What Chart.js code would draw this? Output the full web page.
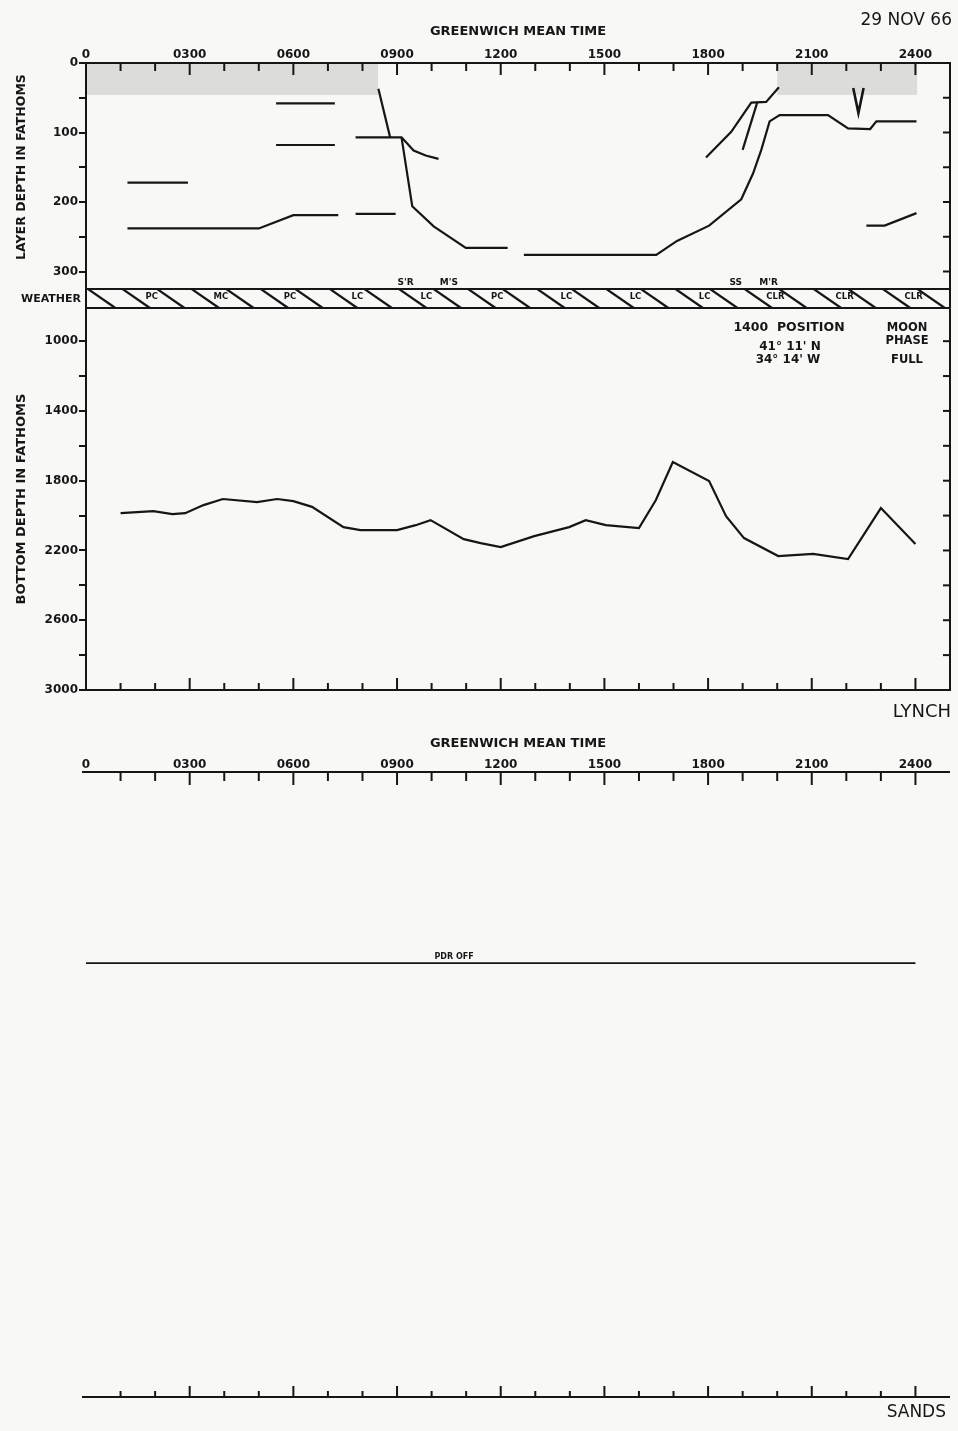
<!DOCTYPE html>
<html>
<head>
<meta charset="utf-8">
<title>Layer and bottom depth, 29 Nov 66</title>
<script src="https://cdn.jsdelivr.net/npm/chart.js@4.4.1/dist/chart.umd.min.js"></script>
<style>
  body { margin: 0; background: #f8f8f7; }
  #page { position: relative; width: 958px; height: 1431px; overflow: hidden; }
  #page canvas { position: absolute; left: 0; }
</style>
</head>
<body>
<div id="page">
  <canvas id="layerChart" width="958" height="320" style="top:0"></canvas>
  <canvas id="bottomChart" width="958" height="430" style="top:300px"></canvas>
  <canvas id="sandsChart" width="958" height="711" style="top:720px"></canvas>
</div>
<script>
// time axis, hours GMT
const hourTicks = [0,1,2,3,4,5,6,7,8,9,10,11,12,13,14,15,16,17,18,19,20,21,22,23,24]
const majorHours = [0,3,6,9,12,15,18,21,24]
const timeLabels = ['0','0300','0600','0900','1200','1500','1800','2100','2400']

// depth axes, fathoms
const layerTicks = [0,50,100,150,200,250,300]
const layerLabels = [0,100,200,300]
const bottomTicks = [1000,1200,1400,1600,1800,2000,2200,2400,2600,2800,3000]
const bottomLabels = [1000,1400,1800,2200,2600,3000]

// LYNCH layer depth traces, [hour, fathoms]
const layerA = [[1.2,172],[2.95,172]]
const layerB = [[1.2,238],[5.0,238],[6.0,219],[7.3,219]]
const layerC = [[5.5,58],[7.2,58]]
const layerD = [[5.5,118],[7.2,118]]
const layerE = [[7.8,217],[8.96,217]]
const layerF = [[7.8,107],[9.13,107],[9.48,126],[9.83,133],[10.2,138]]
const layerG = [[8.46,37],[8.8,107]]
const layerH = [[9.13,107],[9.44,206],[10.06,235],[10.99,266],[12.2,266]]
const layerI = [[12.67,276],[16.5,276],[17.1,256],[18.03,234],[18.96,196],[19.3,159],[19.54,125],[19.78,84],[20.07,75],[21.47,75],[22.05,94],[22.69,95],[22.87,84],[24.03,84]]
const layerJ = [[17.94,136],[18.67,99],[19.25,57],[19.68,56],[20.05,35]]
const layerK = [[19.0,125],[19.42,57]]
const layerL = [[22.58,234],[23.11,234],[24.03,216]]
const moonMark = [[22.2,36],[22.35,72],[22.5,36]]

// shaded surface layer, [from hour, to hour]
const shadeSpans = [[0,8.45],[20.0,24.05]]
const shadeDepth = 46

// weather band
const bandDepth = 325
const weatherHours = [1.9,3.9,5.9,7.85,9.85,11.9,13.9,15.9,17.9,19.95,21.95,23.95]
const weatherCodes = ['PC','MC','PC','LC','LC','PC','LC','LC','LC','CLR','CLR','CLR']
const eventHours = [9.25,10.5,18.8,19.75]
const eventLabels = ["S'R","M'S","SS","M'R"]

// LYNCH bottom depth, fathoms
const bottomHours = [1.0,1.95,2.5,2.87,3.4,3.96,4.95,5.53,6.0,6.54,7.45,7.94,9.0,9.54,9.97,10.93,11.42,12.0,12.97,13.98,14.46,15.04,16.0,16.49,16.98,18.03,18.52,19.04,20.03,21.04,22.05,23.0,24.0]
const bottomDepth = [1986,1974,1992,1986,1940,1905,1923,1905,1917,1950,2066,2083,2083,2055,2026,2135,2158,2181,2118,2066,2026,2055,2072,1911,1693,1802,2003,2129,2232,2220,2249,1957,2163]

// SANDS recorder, off all day
const sandsTrace = [[0,275],[24,275]]

const ink = '#161616'
const label = (size, weight) => (weight || 'bold') + ' ' + size + "px 'DejaVu Sans', sans-serif"

Chart.defaults.font.family = "'DejaVu Sans', sans-serif"
Chart.defaults.color = ink

const trace = (pairs, width) => ({
  data: pairs.map(([x, y]) => ({x, y})),
  borderColor: ink,
  borderWidth: width || 2.2,
  pointRadius: 0,
  tension: 0
})

const timeLabel = (v) => {
  const i = majorHours.indexOf(v)
  return i < 0 ? '' : timeLabels[i]
}

const timeAxis = (height, tickPad, titlePad) => ({
  type: 'linear',
  position: 'top',
  min: 0,
  max: 25,
  afterBuildTicks: (s) => { s.ticks = hourTicks.map(v => ({value: v})) },
  afterFit: (s) => { s.height = height },
  ticks: { autoSkip: false, maxRotation: 0, padding: tickPad, font: {size: 12, weight: 'bold'}, callback: timeLabel },
  grid: { display: false, drawTicks: false },
  border: { display: false },
  title: { display: true, text: 'GREENWICH MEAN TIME', font: {size: 13, weight: 'bold'}, padding: {top: titlePad, bottom: 0} }
})

const seg = (ctx, x1, y1, x2, y2) => {
  ctx.beginPath()
  ctx.moveTo(x1, y1)
  ctx.lineTo(x2, y2)
  ctx.stroke()
}

const write = (ctx, str, px, py, font, align) => {
  ctx.font = font
  ctx.textAlign = align || 'center'
  ctx.textBaseline = 'middle'
  ctx.fillText(str, px, py)
}

// hour tick marks pointing into the plot
const hourMarks = (ctx, x, edge, dir, majorLen, minorLen) => {
  hourTicks.forEach((h) => {
    if (h === 0) return
    const px = x.getPixelForValue(h)
    seg(ctx, px, edge, px, edge + dir * (majorHours.includes(h) ? majorLen : minorLen))
  })
}

const common = {
  responsive: false,
  animation: false,
  events: [],
  plugins: { legend: { display: false }, tooltip: { enabled: false } }
}

// upper panel: layer depth + weather band
const layerDecor = {
  id: 'layerDecor',
  beforeDatasetsDraw(chart) {
    const {ctx, scales: {x, y}} = chart
    ctx.save()
    ctx.fillStyle = 'rgba(0,0,0,0.11)'
    shadeSpans.forEach(([a, b]) => {
      const left = x.getPixelForValue(a)
      const top = y.getPixelForValue(0)
      ctx.fillRect(left, top, x.getPixelForValue(b) - left, y.getPixelForValue(shadeDepth) - top)
    })
    ctx.restore()
  },
  afterDatasetsDraw(chart) {
    const {ctx, chartArea: area, scales: {x, y}} = chart
    ctx.save()
    ctx.strokeStyle = ink
    ctx.fillStyle = ink
    ctx.lineWidth = 2
    seg(ctx, area.left - 1, area.top, area.right + 1, area.top)
    seg(ctx, area.right, area.top, area.right, area.bottom)
    hourMarks(ctx, x, area.top, 1, 12, 8)
    layerTicks.forEach((v) => {
      if (v === 0) return
      seg(ctx, area.right - 7, y.getPixelForValue(v), area.right, y.getPixelForValue(v))
    })

    // weather band with hatching
    const bandTop = y.getPixelForValue(bandDepth)
    seg(ctx, area.left, bandTop, area.right, bandTop)
    seg(ctx, area.left, area.bottom, area.right, area.bottom)
    ctx.save()
    ctx.beginPath()
    ctx.rect(area.left, bandTop, area.right - area.left, area.bottom - bandTop)
    ctx.clip()
    ctx.lineWidth = 2.3
    hourTicks.forEach((h) => {
      seg(ctx, x.getPixelForValue(h + 0.05), bandTop, x.getPixelForValue(h + 0.85), area.bottom)
    })
    ctx.restore()
    weatherHours.forEach((h, i) => {
      write(ctx, weatherCodes[i], x.getPixelForValue(h), bandTop + 8, label(8.5))
    })
    eventHours.forEach((h, i) => {
      write(ctx, eventLabels[i], x.getPixelForValue(h), bandTop - 6, label(9))
    })

    write(ctx, 'WEATHER', 81, (bandTop + area.bottom) / 2 + 1, label(11), 'right')
    write(ctx, '29 NOV 66', 952, 21, label(17, 'normal'), 'right')
    ctx.save()
    ctx.translate(22, 167)
    ctx.rotate(-Math.PI / 2)
    write(ctx, 'LAYER DEPTH IN FATHOMS', 0, 0, label(12.5))
    ctx.restore()
    ctx.restore()
  }
}

new Chart(document.getElementById('layerChart'), {
  type: 'line',
  data: {
    datasets: [layerA, layerB, layerC, layerD, layerE, layerF, layerG, layerH, layerI, layerJ, layerK, layerL].map(p => trace(p))
      .concat([trace(moonMark, 2.6)])
  },
  options: {
    ...common,
    layout: { padding: {top: 0, right: 8, bottom: 12, left: 0} },
    scales: {
      x: timeAxis(63, 1, 24),
      y: {
        type: 'linear',
        min: 0,
        max: 352.5,
        reverse: true,
        afterBuildTicks: (s) => { s.ticks = layerTicks.map(v => ({value: v})) },
        afterFit: (s) => { s.width = 86 },
        ticks: { padding: 1, font: {size: 12, weight: 'bold'}, callback: (v) => layerLabels.includes(v) ? String(v) : '' },
        grid: { drawOnChartArea: false, drawTicks: true, tickLength: 7, color: ink, lineWidth: 2 },
        border: { display: true, color: ink, width: 2 }
      }
    }
  },
  plugins: [layerDecor]
})

// middle panel: bottom depth
const bottomDecor = {
  id: 'bottomDecor',
  afterDatasetsDraw(chart) {
    const {ctx, chartArea: area, scales: {x, y}} = chart
    ctx.save()
    ctx.strokeStyle = ink
    ctx.fillStyle = ink
    ctx.lineWidth = 2
    seg(ctx, area.right, area.top, area.right, area.bottom + 1)
    seg(ctx, area.left - 1, area.bottom, area.right + 1, area.bottom)
    hourMarks(ctx, x, area.bottom, -1, 12, 7)
    bottomTicks.forEach((v) => {
      if (v === 3000) return
      seg(ctx, area.right - 7, y.getPixelForValue(v), area.right, y.getPixelForValue(v))
    })

    write(ctx, '1400  POSITION', 789, 28, label(12.5))
    write(ctx, "41\u00b0 11' N", 790, 47, label(12))
    write(ctx, "34\u00b0 14' W", 788, 60, label(12))
    write(ctx, 'MOON', 907, 28, label(11.5))
    write(ctx, 'PHASE', 907, 41, label(11.5))
    write(ctx, 'FULL', 907, 60, label(11.5))
    write(ctx, 'LYNCH', 951, 412, label(18, 'normal'), 'right')
    ctx.restore()
  }
}

new Chart(document.getElementById('bottomChart'), {
  type: 'line',
  data: {
    datasets: [{
      ...trace([]),
      data: bottomHours.map((h, i) => ({x: h, y: bottomDepth[i]}))
    }]
  },
  options: {
    ...common,
    layout: { padding: {top: 8, right: 8, bottom: 40, left: 0} },
    scales: {
      x: { type: 'linear', min: 0, max: 25, display: false },
      y: {
        type: 'linear',
        min: 811,
        max: 3000,
        reverse: true,
        afterBuildTicks: (s) => { s.ticks = bottomTicks.map(v => ({value: v})) },
        afterFit: (s) => { s.width = 86 },
        ticks: { padding: 1, font: {size: 12, weight: 'bold'}, callback: (v) => bottomLabels.includes(v) ? String(v) : '' },
        grid: { drawOnChartArea: false, drawTicks: true, tickLength: 7, color: ink, lineWidth: 2 },
        border: { display: true, color: ink, width: 2 },
        title: { display: true, text: 'BOTTOM DEPTH IN FATHOMS', font: {size: 13, weight: 'bold'}, padding: {top: 14, bottom: 0} }
      }
    }
  },
  plugins: [bottomDecor]
})

// lower panel: SANDS record
const sandsDecor = {
  id: 'sandsDecor',
  afterDatasetsDraw(chart) {
    const {ctx, chartArea: area, scales: {x, y}} = chart
    ctx.save()
    ctx.strokeStyle = ink
    ctx.fillStyle = ink
    ctx.lineWidth = 2
    seg(ctx, area.left - 4, area.top, area.right, area.top)
    seg(ctx, area.left - 4, area.bottom, area.right, area.bottom)
    hourMarks(ctx, x, area.top, 1, 13, 9)
    hourMarks(ctx, x, area.bottom, -1, 11, 6)
    write(ctx, 'PDR OFF', x.getPixelForValue(10.65), y.getPixelForValue(sandsTrace[0][1]) - 6, label(8))
    write(ctx, 'SANDS', 946, 693, label(17, 'normal'), 'right')
    ctx.restore()
  }
}

new Chart(document.getElementById('sandsChart'), {
  type: 'line',
  data: { datasets: [trace(sandsTrace, 1.8)] },
  options: {
    ...common,
    layout: { padding: {top: 0, right: 8, bottom: 34, left: 86} },
    scales: {
      x: timeAxis(52, 0, 16),
      y: { type: 'linear', min: 0, max: 899, reverse: true, display: false }
    }
  },
  plugins: [sandsDecor]
})
</script>
</body>
</html>
